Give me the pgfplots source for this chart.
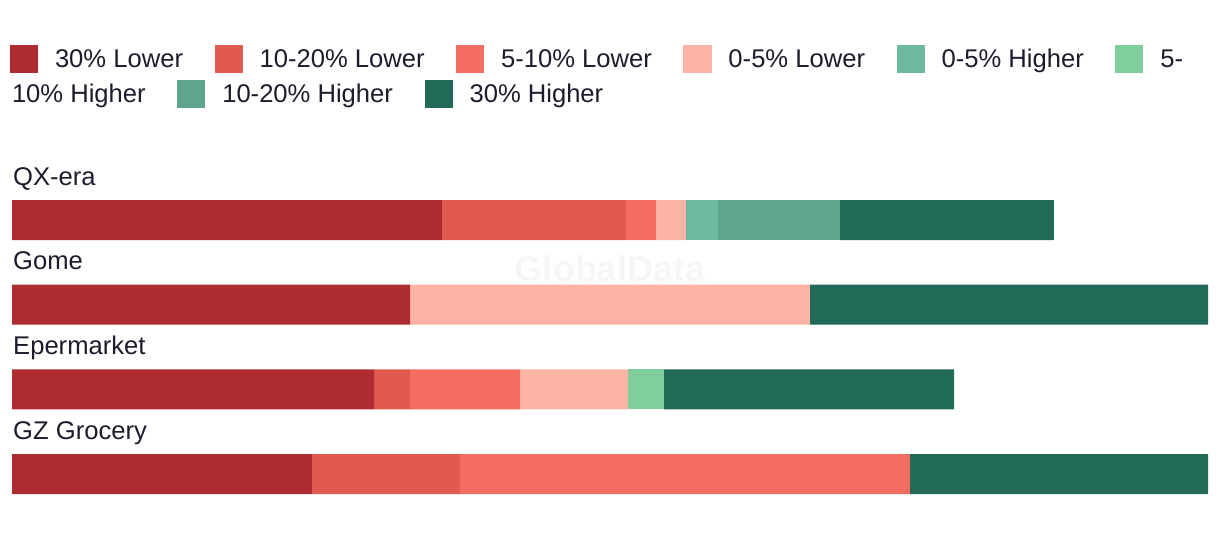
\documentclass[border=0pt]{standalone}
\usepackage{fontspec}
\setmainfont{Liberation Sans}
\usepackage{pgfplots}
\pgfplotsset{compat=1.18}
\definecolor{lowA}{HTML}{AF2C30}
\definecolor{lowB}{HTML}{E05A4F}
\definecolor{lowC}{HTML}{F46D62}
\definecolor{lowD}{HTML}{FDB4A5}
\definecolor{highD}{HTML}{6EB89F}
\definecolor{highC}{HTML}{80CE9D}
\definecolor{highB}{HTML}{5FA48E}
\definecolor{highA}{HTML}{216A57}
\definecolor{txt}{HTML}{1C1C2E}
\pgfplotsset{
    sq legend/.style={legend image code/.code={\fill[##1,draw=none] (0pt,-14pt) rectangle (28pt,14pt);}},
    chartbase/.style={
        at={(12pt,21.6pt)}, anchor=south west,
        scale only axis, width=1196pt, height=338.7pt,
        xmin=0, xmax=100, ymin=-0.5, ymax=3.5, y dir=reverse,
        hide axis, clip=false,
        legend columns=-1,
        legend style={draw=none, fill=none, inner sep=0pt, outer sep=0pt, anchor=west,
            font=\fontsize{25.6}{30}\selectfont, text=txt, nodes={inner sep=0pt},
            /tikz/every odd column/.append style={column sep=17pt},
            /tikz/every even column/.append style={column sep=31.5pt}},
    },
    seg/.style={fill=#1, draw=none, sq legend},
}
\begin{document}
\begin{tikzpicture}[x=1pt,y=1pt]
\useasboundingbox (0,0) rectangle (1220,538);
\begin{axis}[
    chartbase,
    xbar stacked, bar width=40pt,
    legend style={at={(-0.00167,1.3505)}},
]
\node[text=gray!7, font=\bfseries\fontsize{36}{40}\selectfont] at (axis cs:50,0.57) {GlobalData};
% QX-era, Gome, Epermarket, GZ Grocery (share of width)
\addplot[seg=lowA] coordinates {(35.95,0) (33.28,1) (30.27,2) (25.08,3)};
\addplot[seg=lowB] coordinates {(15.38,0) (0,1) (3.01,2) (12.37,3)};
\addplot[seg=lowC] coordinates {(2.51,0) (0,1) (9.20,2) (37.63,3)};
\addplot[seg=lowD] coordinates {(2.51,0) (33.44,1) (9.03,2) (0,3)};
\addplot[seg=highD] coordinates {(2.68,0) (0,1) (0,2) (0,3)};
\addplot[seg=highC] coordinates {(0,0) (0,1) (3.01,2) (0,3)};
\addplot[seg=highB] coordinates {(10.20,0) (0,1) (0,2) (0,3)};
\addplot[seg=highA] coordinates {(17.89,0) (33.28,1) (24.25,2) (24.92,3)};
\legend{30\% Lower, 10-20\% Lower, 5-10\% Lower, 0-5\% Lower, 0-5\% Higher, 5-}
\foreach \lab [count=\i from 0] in {QX-era, Gome, Epermarket, GZ Grocery} {
    \edef\temp{\noexpand\node[anchor=base west, inner sep=0pt, yshift=35pt, xshift=1pt,
        text=txt, font=\noexpand\fontsize{25.6}{30}\noexpand\selectfont] at (axis cs:0,\i) {\lab};}
    \temp
}
\end{axis}
\begin{axis}[
    chartbase,
    legend style={at={(-0.01421,1.2471)}},
]
\addlegendimage{empty legend}
\addlegendimage{seg=highB}
\addlegendimage{seg=highA}
\legend{10\% Higher, 10-20\% Higher, 30\% Higher}
\end{axis}
\end{tikzpicture}
\end{document}
